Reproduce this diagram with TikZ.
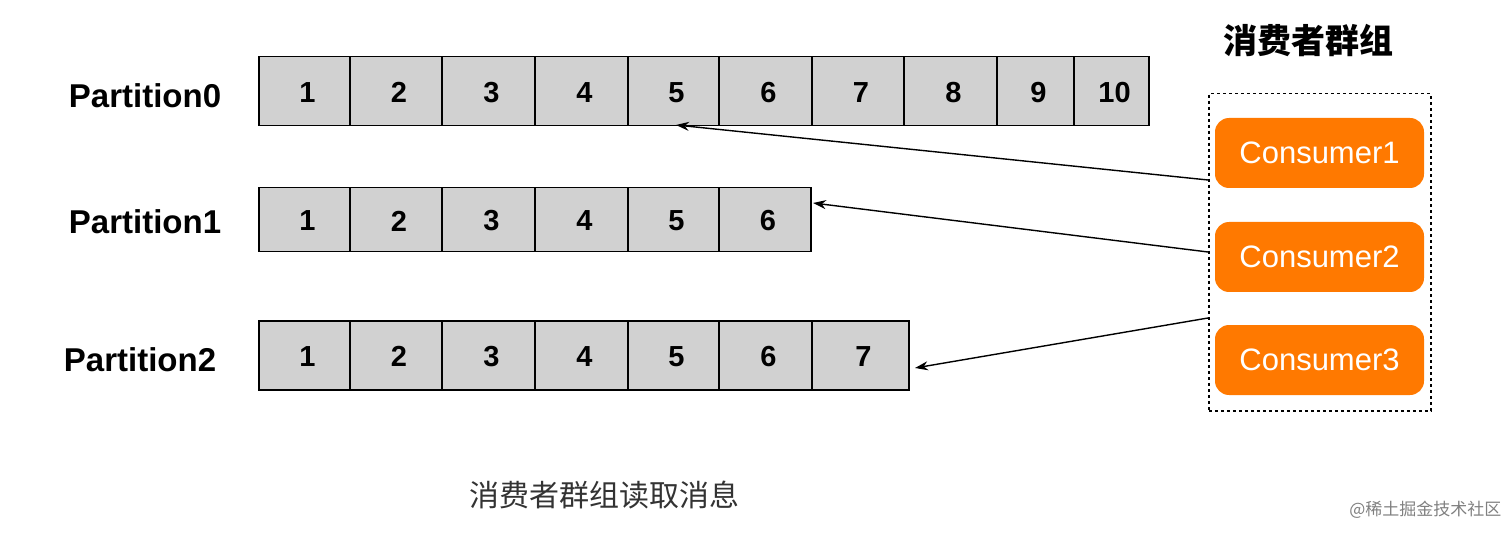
\documentclass[tikz,border=0pt]{standalone}
\usepackage{fontspec}
\setmainfont{Liberation Sans}
\newfontfamily\cjk{Noto Sans CJK SC}
\usetikzlibrary{arrows.meta}
\begin{document}
\begin{tikzpicture}[x=1pt,y=-1pt,
  cellbox/.style={draw=black,line width=1.5pt,fill=black!18},
  num/.style={font=\bfseries\fontsize{29}{30}\selectfont},
  plabel/.style={font=\bfseries\fontsize{33}{36}\selectfont},
  cons/.style={draw=none,fill=orange!95!red,rounded corners=14pt,minimum width=209pt,minimum height=70pt,text=white,font=\fontsize{31}{33}\selectfont},
  arr/.style={line width=1.4pt,-{Stealth[length=13pt,width=9pt]}}]
\useasboundingbox (0,0) rectangle (1512,537);
\def\row#1#2#3#4{%
  \foreach \a/\b [count=\i] in {#4} {
    \node[cellbox,minimum width={\b-\a},minimum height={#3-#2},anchor=north west,inner sep=0pt] (c#1\i) at (\a,#2) {};
    \node[num] at ({(\a+\b)/2+4},{(#2+#3)/2+2}) {\i};
  }}
\row{a}{56}{125}{258/349,349/441,441/534,534/627,627/718,718/811,811/903,903/996,996/1073,1073/1148}
\row{b}{187}{251}{258/349,349/441,441/534,534/627,627/718,718/810}
\row{c}{320}{389}{258/349,349/441,441/534,534/627,627/718,718/811,811/908}
\node[plabel] (p0) at (145,96) {Partition0};
\node[plabel] (p1) at (145,222) {Partition1};
\node[plabel] (p2) at (140,360) {Partition2};
\node[draw,dashed,line width=1.5pt,minimum width=222pt,minimum height=317pt,anchor=north west,inner sep=0pt] (grp) at (1208,93) {};
\node[font=\cjk\bfseries\fontsize{34}{36}\selectfont] (gt) at (1308,40) {消费者群组};
\node[cons] (k1) at (1319.5,153) {Consumer1};
\node[cons] (k2) at (1319.5,257) {Consumer2};
\node[cons] (k3) at (1319.5,360) {Consumer3};
\coordinate (s1) at (1208,180);
\coordinate (s2) at (1208,252);
\coordinate (s3) at (1208,318);
\coordinate (t1) at (676,125);
\coordinate (t2) at (813,203);
\coordinate (t3) at (915,368);
\draw[arr] (s1) -- (t1);
\draw[arr] (s2) -- (t2);
\draw[arr] (s3) -- (t3);
\node[font=\cjk\fontsize{30}{32}\selectfont,text=black!80] (cap) at (604,495) {消费者群组读取消息};
\node[font=\cjk\fontsize{17}{19}\selectfont,text=black!50,anchor=east] (wm) at (1505,510) {@稀土掘金技术社区};
\end{tikzpicture}
\end{document}
